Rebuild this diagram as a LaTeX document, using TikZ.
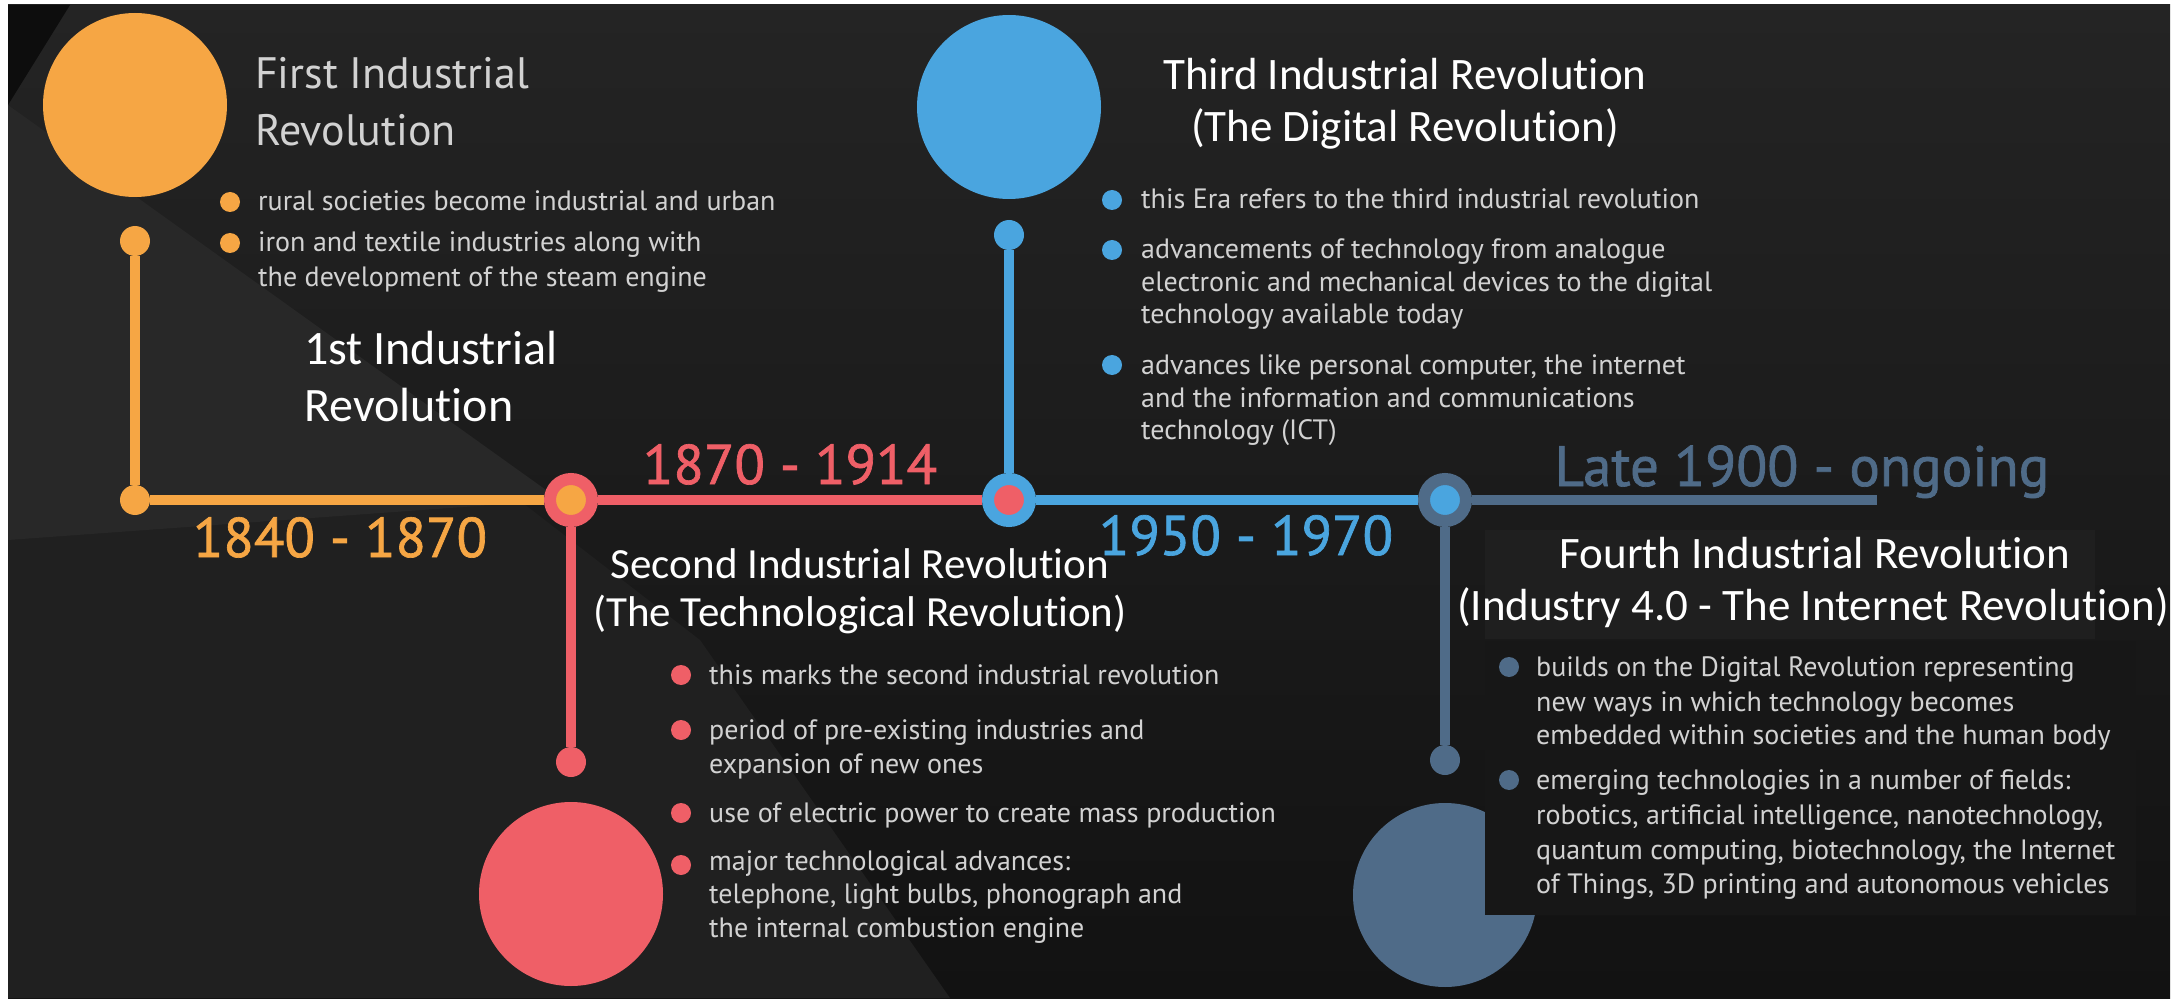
\documentclass[tikz,border=0pt]{standalone}
\usepackage{fontspec}
\newfontfamily\infofont{PT Sans}
\newfontfamily\calfont{Carlito}[Ligatures=NoCommon]
\newfontfamily\datefont{PT Sans}[FakeBold=1.2]
\definecolor{cOr}{HTML}{F6A644}
\definecolor{cRd}{HTML}{EF5F67}
\definecolor{cBl}{HTML}{4AA5DF}
\definecolor{cSl}{HTML}{4F6B88}
\definecolor{txtgray}{HTML}{D2D2D2}
\definecolor{bgTop}{HTML}{242424}
\definecolor{bgBot}{HTML}{121212}
\definecolor{bgBlack}{HTML}{0D0D0D}
\definecolor{bgWedge}{HTML}{202020}
\definecolor{bgLight}{HTML}{282828}
\definecolor{bgBox}{HTML}{171717}
\definecolor{bgTitle}{HTML}{1F1F1F}
\begin{document}
\begin{tikzpicture}[x=1pt,y=-1pt,
  tl/.style={line width=10pt},
  dotnode/.style={circle, fill=#1, minimum size=30pt, inner sep=0pt},
  bignode/.style={circle, fill=#1, minimum size=184pt, inner sep=0pt},
  ringnode/.style 2 args={circle, fill=#2, draw=#1, line width=12pt, minimum size=42pt, inner sep=0pt},
  bul/.style={circle, fill=#1, minimum size=20pt, inner sep=0pt},
  btxt/.style={font=\infofont\fontsize{28}{32}\selectfont, text=txtgray, anchor=base west, inner sep=0pt},
  gtitle/.style={font=\infofont\fontsize{44}{50}\selectfont, text=txtgray, anchor=base west, inner sep=0pt},
  ovl/.style={font=\calfont\fontsize{#1}{50}\selectfont, text=white, inner sep=0pt},
  datelbl/.style={font=\datefont\fontsize{56}{60}\selectfont, text=#1, anchor=base, inner sep=0pt}
]
% background
\fill[white] (0,0) rectangle (2180,1000);
\shade[top color=bgTop, bottom color=bgBot] (8,5) rectangle (2170,998);
\fill[bgWedge] (8,105) -- (700,640) -- (950,998) -- (8,998) -- cycle;
\fill[bgLight] (8,105) -- (560,500) -- (8,540) -- cycle;
\fill[bgBlack] (8,5) -- (70,5) -- (8,105) -- cycle;
\fill[bgBox] (1485,641) rectangle (2136,915);
\fill[bgTitle] (1485,530) rectangle (2095,639);

% big circles
\node[bignode=cOr] (obig) at (135,105) {};
\node[bignode=cBl] (bbig) at (1009,107) {};
\node[bignode=cRd] (rbig) at (571,894) {};
\node[bignode=cSl] (sbig) at (1445,895) {};
\fill[bgBox] (1485,760) rectangle (1560,915);

% timeline nodes
\node[dotnode=cOr] (otop) at (135,241) {};
\node[dotnode=cOr] (ocorner) at (135,500) {};
\node[ringnode={cRd}{cOr}] (rring) at (571,500) {};
\node[ringnode={cBl}{cRd}] (bring) at (1009,500) {};
\node[ringnode={cSl}{cBl}] (sring) at (1445,500) {};
\node[dotnode=cBl] (btop) at (1009,235) {};
\node[dotnode=cRd] (rbot) at (571,762) {};
\node[dotnode=cSl] (sbot) at (1445,760) {};
\coordinate (send) at (1877,500);

% connectors
\draw[tl, cOr] (otop) -- (ocorner);
\draw[tl, cOr] (ocorner) -- (rring);
\draw[tl, cRd] (rring) -- (bring);
\draw[tl, cRd] (rring) -- (rbot);
\draw[tl, cBl] (bring) -- (sring);
\draw[tl, cBl] (btop) -- (bring);
\draw[tl, cSl] (sring) -- (send);
\draw[tl, cSl] (sring) -- (sbot);

% date labels
\node[datelbl=cOr] (d1) at (340,557) {1840 - 1870};
\node[datelbl=cRd] (d2) at (790,484) {1870 - 1914};
\node[datelbl=cBl] (d3) at (1246,555) {1950 - 1970};
\node[datelbl=cSl, font=\datefont\fontsize{57}{60}\selectfont] (d4) at (1802,486) {Late 1900 - ongoing};

% First
\node[gtitle] (ot1) at (255,89) {First Industrial};
\node[gtitle] (ot2) at (255,146) {Revolution};
\node[bul=cOr] (ob1) at (230,202) {};
\node[bul=cOr] (ob2) at (230,243) {};
\node[btxt] (ol1) at (258,211) {rural societies become industrial and urban};
\node[btxt] (ol2) at (258,252) {iron and textile industries along with};
\node[btxt] (ol3) at (258,287) {the development of the steam engine};
\node[ovl=48, anchor=base west] (ov11) at (304,364) {1st Industrial};
\node[ovl=48, anchor=base west] (ov12) at (304,421) {Revolution};

% Second
\node[ovl=43, anchor=base] (ov21) at (860,578) {Second Industrial Revolution};
\node[ovl=43, anchor=base] (ov22) at (860,626) {(The Technological Revolution)};
\node[bul=cRd] (rb1) at (681,675) {};
\node[bul=cRd] (rb2) at (681,730) {};
\node[bul=cRd] (rb3) at (681,813) {};
\node[bul=cRd] (rb4) at (681,865) {};
\node[btxt] (rl1) at (709,684) {this marks the second industrial revolution};
\node[btxt] (rl2) at (709,739) {period of pre-existing industries and};
\node[btxt] (rl3) at (709,773) {expansion of new ones};
\node[btxt] (rl4) at (709,822) {use of electric power to create mass production};
\node[btxt] (rl5) at (709,870) {major technological advances:};
\node[btxt] (rl6) at (709,903) {telephone, light bulbs, phonograph and};
\node[btxt] (rl7) at (709,937) {the internal combustion engine};

% Third
\node[ovl=45, anchor=base] (ov31) at (1405,90) {Third Industrial Revolution};
\node[ovl=45, anchor=base] (ov32) at (1405,142) {(The Digital Revolution)};
\node[bul=cBl] (bb1) at (1112,200) {};
\node[bul=cBl] (bb2) at (1112,250) {};
\node[bul=cBl] (bb3) at (1112,365) {};
\node[btxt] (bl1) at (1141,209) {this Era refers to the third industrial revolution};
\node[btxt] (bl2) at (1141,259) {advancements of technology from analogue};
\node[btxt] (bl3) at (1141,292) {electronic and mechanical devices to the digital};
\node[btxt] (bl4) at (1141,324) {technology available today};
\node[btxt] (bl5) at (1141,374) {advances like personal computer, the internet};
\node[btxt] (bl6) at (1141,407) {and the information and communications};
\node[btxt] (bl7) at (1141,439) {technology (ICT)};

% Fourth
\node[ovl=45, anchor=base] (ov41) at (1815,568) {Fourth Industrial Revolution};
\node[ovl=45, anchor=base] (ov42) at (1813,620) {(Industry 4.0 - The Internet Revolution)};
\node[bul=cSl] (sb1) at (1509,667) {};
\node[bul=cSl] (sb2) at (1509,780) {};
\node[btxt] (sl1) at (1536,676) {builds on the Digital Revolution representing};
\node[btxt] (sl2) at (1536,711) {new ways in which technology becomes};
\node[btxt] (sl3) at (1536,744) {embedded within societies and the human body};
\node[btxt] (sl4) at (1536,789) {emerging technologies in a number of fields:};
\node[btxt] (sl5) at (1536,824) {robotics, artificial intelligence, nanotechnology,};
\node[btxt] (sl6) at (1536,859) {quantum computing, biotechnology, the Internet};
\node[btxt] (sl7) at (1536,893) {of Things, 3D printing and autonomous vehicles};
\end{tikzpicture}
\end{document}
